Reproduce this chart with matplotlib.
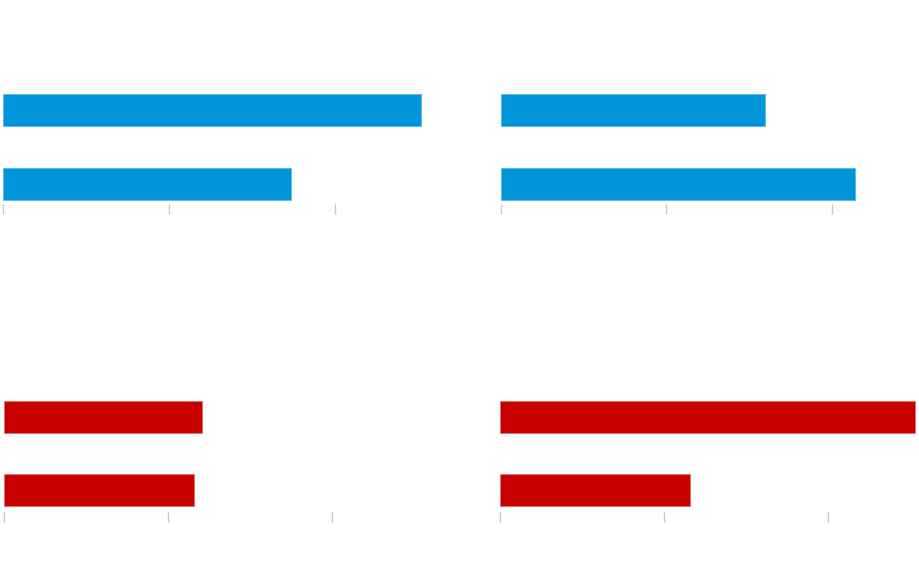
import matplotlib
matplotlib.use("Agg")
import matplotlib.pyplot as plt
import numpy as np

# values (no labels shown in the original)
top_left = [126.0, 86.8]
top_right = [79.6, 106.9]
bottom_left = [60.5, 58.2]
bottom_right = [126.4, 57.8]
ticks = [0, 50, 100]

BLUE = "#0095da"
BLUE_EDGE = "#56b9e8"
RED = "#c80000"
RED_EDGE = "#e07070"
TICK = "#c8c8c8"

W, H = 920, 566


def panel(fig, left_px, axis_px, row_px, tick_px, xmax, y_low, values, color, edge):
    # axis_px: y of the hidden x axis, row_px: px between bar centres, tick_px: px per 50 units
    y_top = -0.95
    height_px = (y_low - y_top) * row_px
    width_px = xmax * tick_px / 50
    ax = fig.add_axes([left_px / W, 1 - axis_px / H, width_px / W, height_px / H])
    y = np.arange(len(values))
    ax.barh(y, values, height=0.432, color=color, edgecolor=edge, linewidth=0.6)
    ax.set_xlim(0, xmax)
    ax.set_ylim(y_low, y_top)
    for s in ax.spines.values():
        s.set_visible(False)
    ax.set_xticks(ticks)
    ax.set_xticklabels([])
    ax.set_yticks([])
    ax.tick_params(axis="x", length=7.2, width=1.0, color=TICK)
    ax.patch.set_alpha(0)
    return ax


fig = plt.figure(figsize=(9.2, 5.66), dpi=100)

panel(fig, 3.0, 204.3, 74.0, 165.85, 135, 1.27, top_left, BLUE, BLUE_EDGE)
panel(fig, 500.5, 204.3, 74.0, 165.85, 125, 1.27, top_right, BLUE, BLUE_EDGE)
panel(fig, 3.6, 512.3, 73.3, 164.0, 135, 1.30, bottom_left, RED, RED_EDGE)
panel(fig, 500.0, 512.3, 73.3, 164.0, 127, 1.30, bottom_right, RED, RED_EDGE)

fig.savefig("out.png", dpi=100)
